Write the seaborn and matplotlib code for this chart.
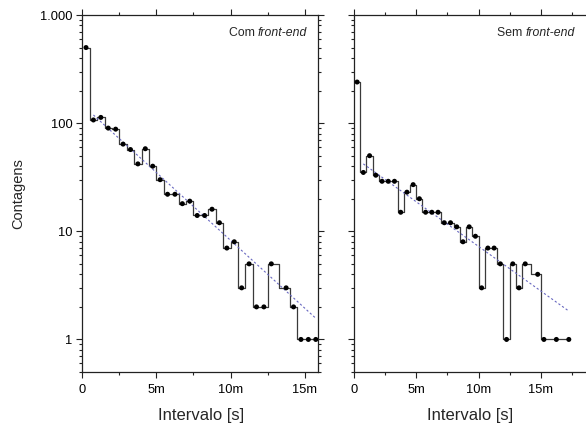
import numpy as np
import pandas as pd
import seaborn as sns
import matplotlib.pyplot as plt
import matplotlib.ticker as mticker

sns.set_style("ticks")
plt.rcParams['font.family'] = ['Liberation Sans', 'DejaVu Sans']

# counts per 30 s bin (0 = empty bin, not shown on log axis)
com_counts = [500, 107, 113, 90, 88, 64, 57, 42, 58, 40, 30, 22, 22, 18, 19, 14,
              14, 16, 12, 7, 8, 3, 5, 2, 2, 5, 0, 3, 2, 1, 1, 1]
sem_counts = [240, 35, 50, 33, 29, 29, 29, 15, 23, 27, 20, 15, 15, 15, 12, 12,
              11, 8, 11, 9, 3, 7, 7, 5, 1, 5, 3, 5, 0, 4, 1, 0, 1, 0, 1]
bin_width = 0.5  # minutes

# exponential fit, start / end points
com_fit_x = [0.75, 15.75]
com_fit_y = [119, 1.57]
sem_fit_x = [0.75, 17.25]
sem_fit_y = [42, 1.83]

panels = [
    ("Com", com_counts, com_fit_x, com_fit_y),
    ("Sem", sem_counts, sem_fit_x, sem_fit_y),
]

W, H = 586, 428
fig = plt.figure(figsize=(W / 100, H / 100), dpi=100)
ax1 = fig.add_axes([82.3 / W, 56 / H, 235.7 / W, 357 / H])
ax2 = fig.add_axes([354 / W, 56 / H, 232 / W, 357 / H])
xlims = [(0, 15.9), (0, 18.63)]
text_x = [0.955, 0.953]
xlabel_x = [0.504, 0.50]

line_col = '#3a3a3a'
fit_col = '#6868c0'
fs_tick = 9.3
fs_note = 8.8


def ylab(v, pos):
    return f"{v:,.0f}".replace(',', '.')


def xlab(v, pos):
    return "0" if v == 0 else f"{v:g}m"


for i, (ax, (name, counts, fx, fy)) in enumerate(zip([ax1, ax2], panels)):
    df = pd.DataFrame({"t": np.arange(len(counts)) * bin_width + bin_width / 2,
                       "n": counts})
    df = df[df["n"] > 0]
    sns.lineplot(data=df, x="t", y="n", ax=ax, drawstyle='steps-mid',
                 color=line_col, lw=0.9, estimator=None, sort=False)
    sns.lineplot(x=fx, y=fy, ax=ax, color=fit_col, lw=0.8,
                 linestyle=(0, (2, 2)))
    sns.scatterplot(data=df, x="t", y="n", ax=ax, color='black', s=13,
                    edgecolor='none', zorder=3)

    ax.set_yscale('log')
    ax.set_ylim(0.5, 1000)
    ax.set_xlim(*xlims[i])
    ax.xaxis.set_major_locator(mticker.MultipleLocator(5))
    ax.xaxis.set_minor_locator(mticker.MultipleLocator(2.5))
    ax.xaxis.set_major_formatter(mticker.FuncFormatter(xlab))
    ax.yaxis.set_major_locator(mticker.FixedLocator([1, 10, 100, 1000]))
    ax.yaxis.set_minor_locator(mticker.LogLocator(base=10, subs=np.arange(2, 10)))
    ax.yaxis.set_minor_formatter(mticker.NullFormatter())
    ax.yaxis.set_major_formatter(mticker.FuncFormatter(ylab))

    for sp in ax.spines.values():
        sp.set_visible(True)
        sp.set_linewidth(0.9)
        sp.set_color('#222222')
    ax.tick_params(which='both', direction='out', top=True, right=True,
                   labeltop=False, labelright=False, colors='#222222',
                   labelsize=fs_tick, width=0.8)
    ax.tick_params(which='major', length=4.2, pad=4.5)
    ax.tick_params(which='minor', length=2.2)
    ax.tick_params(axis='y', which='major', pad=3)
    for lbl in ax.get_xticklabels() + ax.get_yticklabels():
        lbl.set_color('black')

    ax.set_ylabel("")
    ax.set_xlabel("Intervalo [s]", fontsize=12)
    ax.xaxis.label.set_verticalalignment('center')
    ax.xaxis.set_label_coords(xlabel_x[i], -0.122)

    # plain word followed by italic "front-end"
    fig.canvas.draw()
    it = ax.text(text_x[i], 0.942, "front-end", transform=ax.transAxes,
                 fontsize=fs_note, ha='right', va='baseline', style='italic')
    bb = it.get_window_extent(fig.canvas.get_renderer())
    x0 = ax.transAxes.inverted().transform((bb.x0, bb.y0))[0]
    ax.text(x0, 0.942, name + " ", transform=ax.transAxes, fontsize=fs_note,
            ha='right', va='baseline')

ax1.set_ylabel("Contagens", fontsize=10.5)
ax1.yaxis.set_label_coords(-0.243, 0.5)
ax2.tick_params(axis='y', labelleft=False)
ax2.spines['right'].set_visible(False)
ax2.tick_params(which='both', right=False)

fig.savefig("out.png", dpi=100)
